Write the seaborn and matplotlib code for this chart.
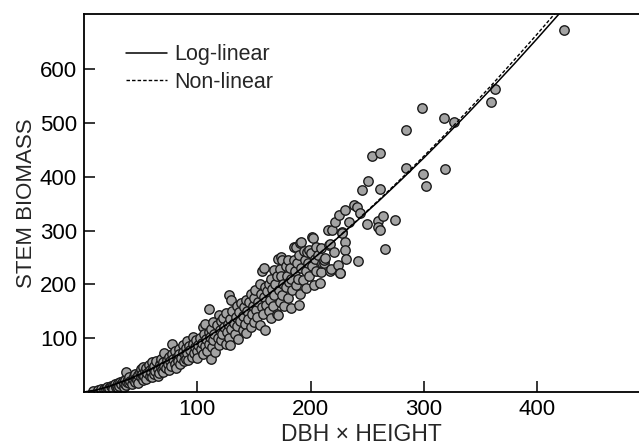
import matplotlib
matplotlib.use("Agg")
import matplotlib.pyplot as plt
import seaborn as sns
import pandas as pd

dbh_height = [
    8, 12, 15, 18, 19, 20, 22, 24, 25, 26, 27, 28, 29, 30, 30,
    31, 32, 33, 34, 35, 35, 36, 37, 37, 38, 39, 40, 40, 41, 42, 43, 44, 45, 45, 46, 47, 48, 48, 49, 50, 50,
    51, 52, 52, 53, 54, 55, 55, 56, 57, 58, 58, 59, 60, 60, 61, 62, 62, 63, 64, 65, 65, 66, 67, 68, 68, 69, 70, 70,
    71, 71, 72, 73, 74, 75, 75, 76, 77, 78, 78, 79, 80, 80, 81, 82, 83, 84, 84, 85, 86, 87, 87, 88, 89, 90, 90,
    91, 91, 92, 93, 94, 95, 96, 96, 97, 98, 99, 100, 100, 101, 102, 103, 104, 105, 105, 106, 107, 107, 108, 109, 110, 110, 110,
    111, 112, 112, 113, 114, 114, 115, 116, 117, 118, 119, 119, 120, 121, 121, 122, 123, 124, 125, 125, 126, 127, 128, 128, 129, 129, 130, 130,
    131, 132, 133, 134, 135, 135, 136, 137, 138, 139, 140, 140, 141, 142, 143, 143, 144, 145, 146, 147, 147, 148, 149, 150, 150,
    151, 152, 153, 154, 155, 155, 156, 157, 157, 158, 159, 159, 160, 160, 161, 162, 163, 163, 164, 165, 165, 166, 167, 168, 168, 169, 170, 170,
    171, 171, 172, 173, 173, 174, 174, 175, 175, 176, 177, 178, 178, 179, 180, 180, 181, 182, 183, 183, 184, 185, 185, 186, 187, 187, 188, 189, 190, 190,
    191, 191, 192, 192, 193, 194, 195, 196, 196, 197, 198, 199, 199, 200, 201, 201, 202, 203, 204, 205, 205, 207, 208, 209, 209, 210,
    212, 212, 213, 215, 216, 217, 217, 218, 219, 221, 222, 224, 225, 226, 226, 228, 228, 230, 230, 230, 231, 234, 238, 241, 242,
    245, 244, 250, 251, 254, 260, 261, 260, 261, 261, 264, 266, 275, 284, 284, 298, 299, 302, 318, 319, 327, 359, 363, 424,
]
stem_biomass = [
    2, 4, 5, 6, 5, 9, 7, 12, 10, 6, 14, 9, 11, 16, 8,
    12, 18, 14, 20, 10, 16, 22, 38, 13, 19, 25, 17, 28, 21, 14, 24, 30, 19, 34, 26, 22, 31, 16, 38, 27, 43,
    33, 47, 22, 29, 39, 25, 45, 35, 50, 30, 41, 37, 55, 27, 44, 33, 49, 39, 58, 43, 30, 35, 52, 46, 62, 40, 56, 37,
    72, 48, 44, 60, 52, 66, 41, 57, 48, 90, 70, 61, 53, 76, 45, 65, 58, 80, 70, 52, 63, 88, 74, 57, 68, 62, 82,
    95, 73, 60, 86, 78, 66, 103, 90, 72, 84, 96, 76, 63, 88, 100, 80, 92, 121, 70, 108, 127, 85, 98, 76, 154, 112, 90,
    102, 62, 118, 84, 130, 96, 108, 74, 124, 100, 143, 88, 116, 132, 96, 108, 138, 120, 90, 146, 112, 126, 180, 100, 135, 87, 118, 172,
    150, 128, 108, 140, 160, 122, 98, 148, 132, 165, 115, 142, 158, 126, 109, 172, 150, 135, 168, 120, 182, 145, 160, 130, 175,
    190, 152, 140, 168, 200, 124, 182, 225, 158, 145, 230, 176, 115, 196, 162, 188, 201, 150, 172, 210, 138, 192, 160, 227, 180, 200, 145, 215,
    247, 143, 190, 228, 168, 251, 216, 180, 245, 200, 160, 196, 235, 215, 175, 246, 205, 230, 157, 211, 190, 270, 245, 225, 199, 269, 240, 210, 162, 255,
    277, 183, 279, 230, 208, 263, 245, 193, 225, 260, 240, 216, 265, 258, 289, 235, 287, 199, 248, 270, 225, 255, 202, 268, 224, 240,
    239, 245, 250, 301, 273, 225, 275, 228, 302, 260, 317, 237, 329, 222, 221, 297, 295, 279, 265, 338, 247, 317, 348, 344, 243,
    375, 332, 313, 393, 439, 318, 444, 307, 377, 301, 328, 266, 320, 487, 416, 529, 406, 383, 510, 414, 502, 539, 563, 674,
]

# ---- fitted curves ----
curve_x = [0, 10, 20, 40, 60, 80, 100, 120, 140, 160, 180, 200, 220, 240,
           260, 280, 300, 320, 340, 360, 380, 400, 420, 440]
loglinear_y = [0, 3.4, 9.1, 24.4, 43.5, 65.7, 90.4, 117.4, 146.3, 177.2, 209.7, 243.8,
               279.3, 316.4, 354.8, 394.5, 435.3, 477.5, 520.7, 565.1, 610.5, 657.0, 704.5, 752.9]
nonlinear_y = [0, 3.2, 8.7, 23.6, 42.6, 64.6, 89.1, 116.1, 145.2, 176.3, 209.0, 243.5,
               279.6, 317.3, 356.4, 396.7, 438.5, 481.4, 525.8, 571.1, 617.8, 665.4, 714.3, 764.0]

x_ticks = [100, 200, 300, 400]
y_ticks = [100, 200, 300, 400, 500, 600]

sns.set_style("ticks")
plt.rcParams['font.family'] = ['Liberation Sans', 'DejaVu Sans']

fig = plt.figure(figsize=(6.39, 4.45), dpi=100)
ax = fig.add_axes([84 / 639, 1 - 392 / 445, 1 - 84 / 639, (392 - 14) / 445])

pts = pd.DataFrame({"x": dbh_height, "y": stem_biomass})
sns.scatterplot(data=pts, x="x", y="y", ax=ax, s=46, color="#a3a3a3",
                edgecolor="#1a1a1a", linewidth=1.0, zorder=2, legend=False)

curves = pd.DataFrame({"x": curve_x, "Log-linear": loglinear_y, "Non-linear": nonlinear_y})
sns.lineplot(data=curves, x="x", y="Log-linear", ax=ax, color="black", lw=1.1,
             zorder=3, label="Log-linear")
sns.lineplot(data=curves, x="x", y="Non-linear", ax=ax, color="black", lw=1.0,
             linestyle=(0, (2.5, 1.5)), zorder=3, label="Non-linear")

ax.set_xlim(0, 490)
ax.set_ylim(0, 703)
ax.set_xticks(x_ticks)
ax.set_yticks(y_ticks)
ax.tick_params(direction="in", length=8, width=1.1, labelsize=16, colors="black", pad=5)
for s in ["left", "top", "bottom"]:
    ax.spines[s].set_linewidth(1.3)
    ax.spines[s].set_color("black")
ax.spines["right"].set_visible(False)

ax.set_xlabel("DBH × HEIGHT", fontsize=16.5)
ax.set_ylabel("STEM BIOMASS", fontsize=16, labelpad=2)
ax.xaxis.label.set_va("baseline")
ax.xaxis.set_label_coords(0.5, (392 - 441) / 378)

leg = ax.legend(loc="upper left", bbox_to_anchor=(0.075, 0.92), frameon=False,
                fontsize=15.5, handlelength=1.9, handletextpad=0.35,
                labelspacing=0.3, borderpad=0, borderaxespad=0)

fig.savefig("out.png", dpi=100)
